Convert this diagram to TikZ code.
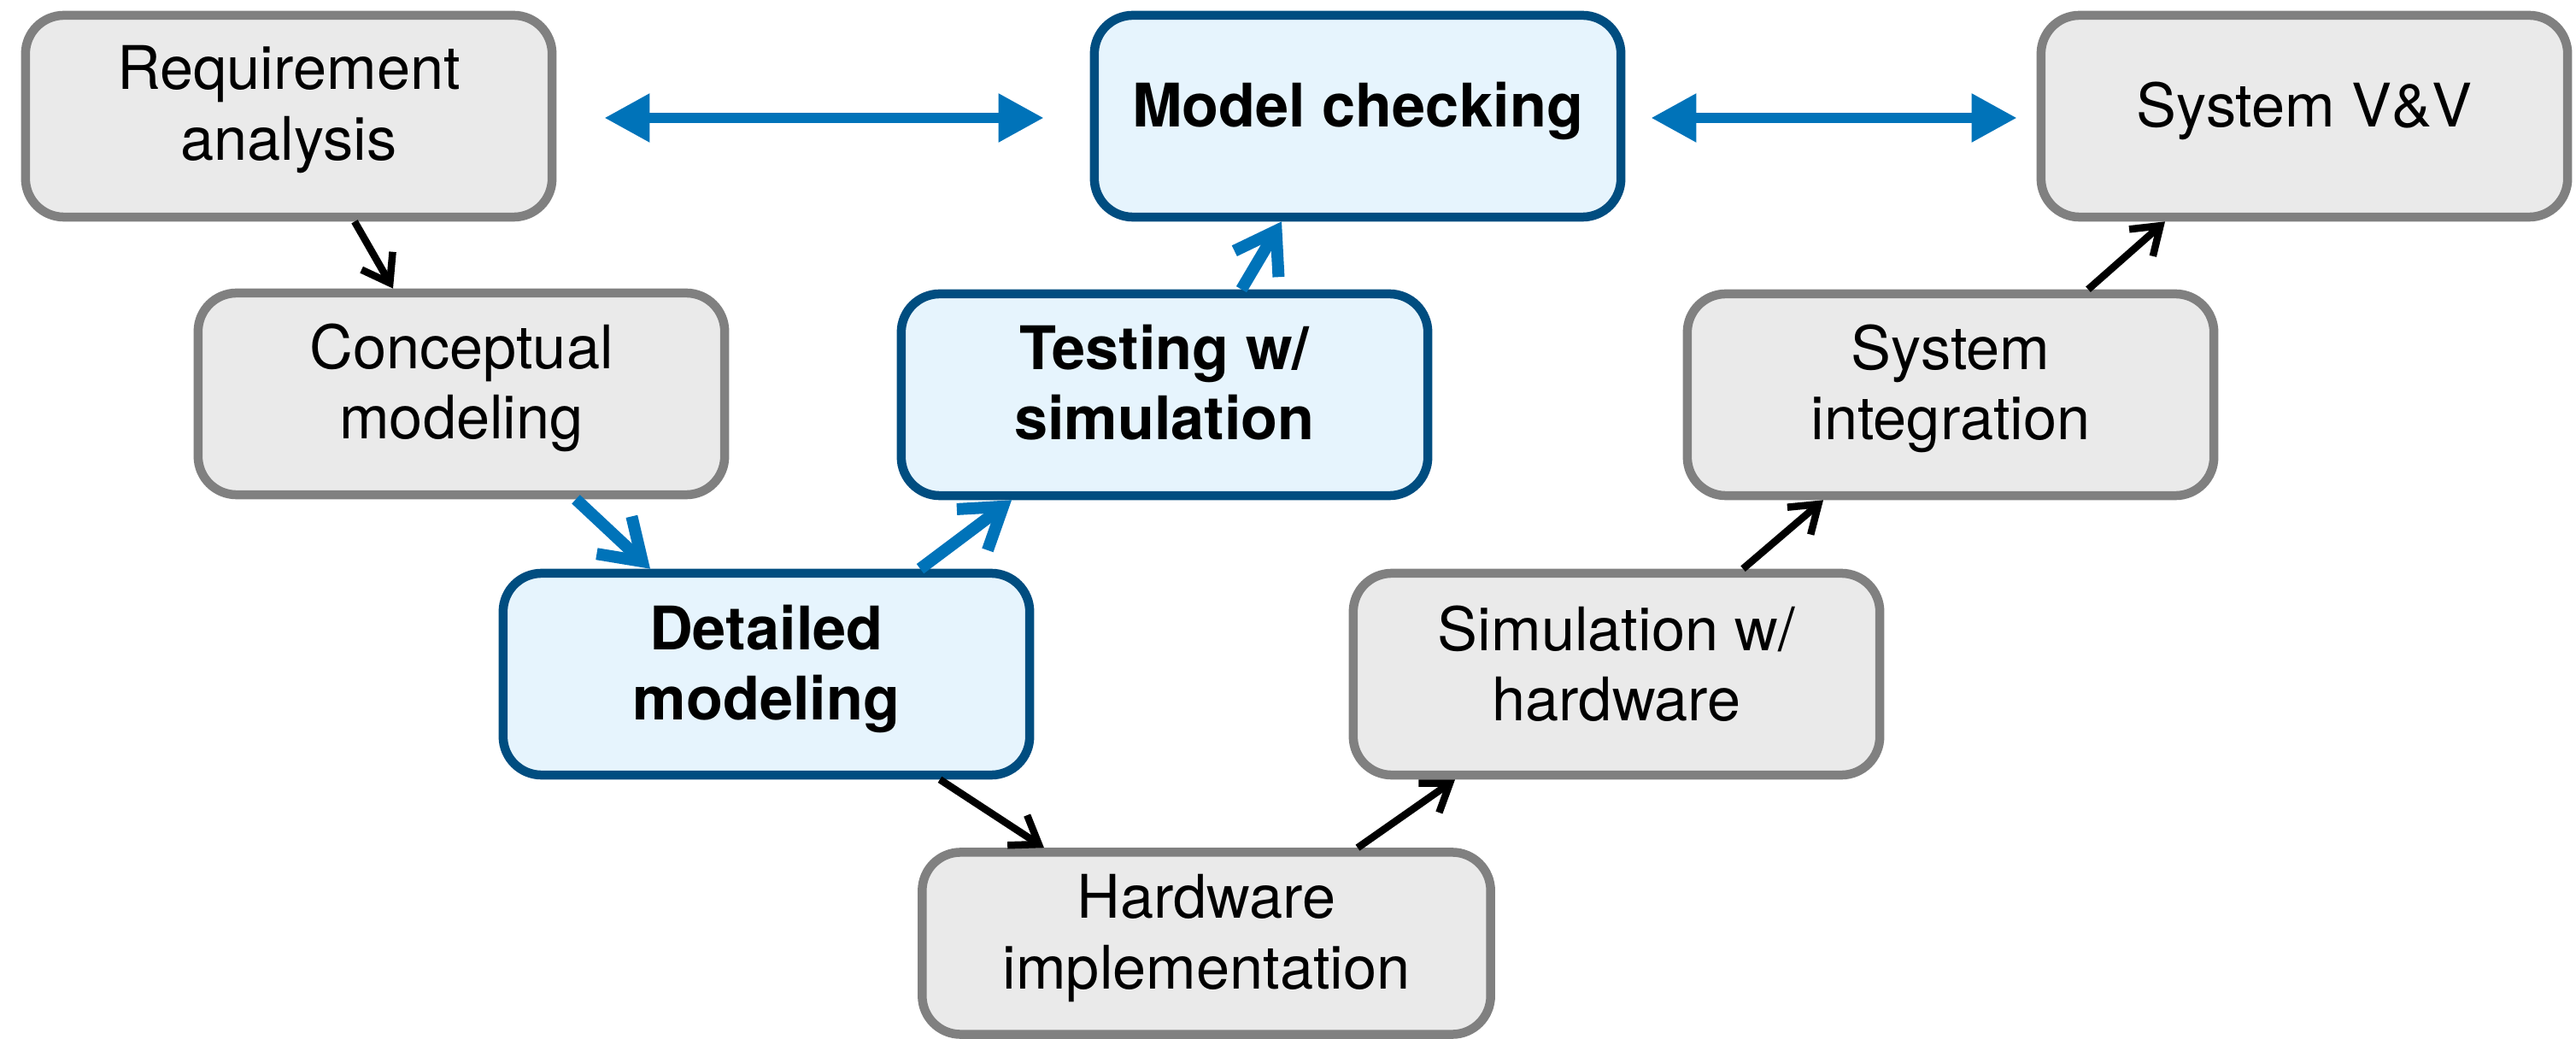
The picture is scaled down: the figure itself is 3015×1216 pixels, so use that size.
\documentclass[tikz,border=0pt]{standalone}
\usepackage{fontspec}
\setmainfont{TeX Gyre Heros}
\usetikzlibrary{arrows.meta,calc}

\definecolor{boxgray}{RGB}{128,128,128}
\definecolor{fillgray}{RGB}{234,234,234}
\definecolor{bluedark}{RGB}{0,77,128}
\definecolor{fillblue}{RGB}{230,244,253}
\definecolor{arrowblue}{RGB}{0,115,185}

\tikzset{
  stage/.style={line width=0.105cm, rounded corners=0.45cm, inner sep=0pt,
    minimum width=6.16cm, minimum height=2.36cm},
  graybox/.style={stage, draw=boxgray, fill=fillgray},
  bluebox/.style={stage, draw=bluedark, fill=fillblue},
  lbl/.style={anchor=north, inner sep=0pt, align=center,
    font=\fontsize{20pt}{23.33pt}\selectfont},
  blbl/.style={lbl, font=\fontsize{20pt}{23.33pt}\selectfont\bfseries},
  blackarr/.style={draw=black, line width=0.085cm,
    -{Straight Barb[length=0.3cm, width=0.42cm, sharp]}},
  bluearr/.style={draw=arrowblue, line width=0.14cm,
    -{Straight Barb[length=0.45cm, width=0.6cm, sharp]}},
  dblarr/.style={draw=arrowblue, line width=0.12cm,
    {Triangle[length=0.53cm, width=0.54cm]}-{Triangle[length=0.53cm, width=0.54cm]}},
}

\begin{document}
\begin{tikzpicture}[x=0.01cm, y=-0.01cm]
  \useasboundingbox (0,0) rectangle (3015,1216);
  \clip (0,0) rectangle (3015,1216);

  % top row
  \node[graybox] (req)   at (338,136)  {};
  \node[bluebox] (mc)    at (1589,136) {};
  \node[graybox] (sysvv) at (2697,136) {};
  % second row
  \node[graybox] (conc)  at (540,461)  {};
  \node[bluebox] (test)  at (1363,462) {};
  \node[graybox] (integ) at (2283,462) {};
  % third row
  \node[bluebox] (det)   at (897,789)  {};
  \node[graybox] (simhw) at (1892,789) {};
  % bottom
  \node[graybox, minimum width=6.65cm, minimum height=2.13cm] (hw) at (1412,1104) {};

  % labels
  \node[lbl]  (reqT)   at (338,53)   {Requirement\\analysis};
  \node[blbl] (mcT)    at (1589,95)  {Model checking};
  \node[lbl]  (sysvvT) at (2697,95)  {System V\&V};
  \node[lbl]  (concT)  at (540,378)  {Conceptual\\modeling};
  \node[blbl] (testT)  at (1363,379) {Testing w/\\simulation};
  \node[lbl]  (integT) at (2283,379) {System\\integration};
  \node[blbl] (detT)   at (897,707)  {Detailed\\modeling};
  \node[lbl]  (simhwT) at (1892,708) {Simulation w/\\hardware};
  \node[lbl]  (hwT)    at (1412,1023) {Hardware\\implementation};

  % flow arrows
  \draw[blackarr] ($(req.south)+(77,0)$)   -- ($(conc.north)+(-80,0)$);
  \draw[bluearr]  ($(conc.south)+(134,0)$) -- ($(det.north)+(-136,0)$);
  \draw[bluearr]  ($(det.north)+(180,0)$)  -- ($(test.south)+(-179,0)$);
  \draw[bluearr]  ($(test.north)+(90,0)$)  -- ($(mc.south)+(-89,0)$);
  \draw[blackarr] ($(det.south)+(203,0)$)  -- ($(hw.north)+(-190,0)$);
  \draw[blackarr] ($(hw.north)+(177,0)$)   -- ($(simhw.south)+(-189,0)$);
  \draw[blackarr] ($(simhw.north)+(148,0)$) -- ($(integ.south)+(-149,0)$);
  \draw[blackarr] ($(integ.north)+(161,0)$) -- ($(sysvv.south)+(-163,0)$);

  % two-way links on the top row
  \draw[dblarr] ($(req.east)+(56,2)$) -- ($(mc.west)+(-54,2)$);
  \draw[dblarr] ($(mc.east)+(30,2)$)  -- ($(sysvv.west)+(-23,2)$);
\end{tikzpicture}
\end{document}
